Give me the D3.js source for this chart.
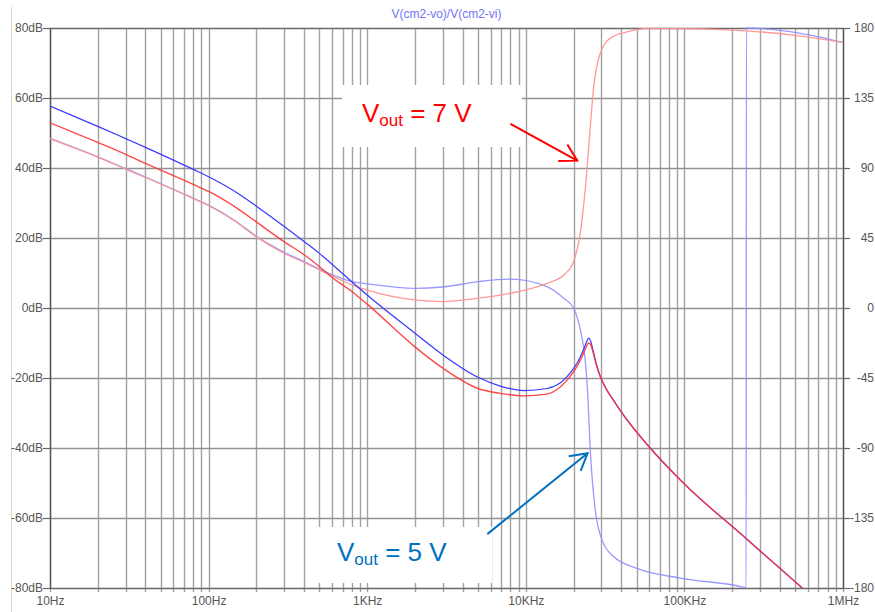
<!DOCTYPE html>
<html>
<head>
<meta charset="utf-8">
<script src="https://cdn.jsdelivr.net/npm/d3@7"></script>
<style>
    body { margin: 0; background: #fff; }
    svg { font-family: "Liberation Sans", Arial, sans-serif; }
</style>
</head>
<body>
<div id="div-grafico"></div>
<script>
// frequencies in Hz, magnitude in dB, phase in degrees
var freqMag5 = [10, 20, 30, 40, 80, 100, 150, 200, 300, 400, 500, 610, 800, 1000, 2000, 3000, 5000, 6900, 9700,
    13600, 18200, 22100, 23390, 24100, 24900, 25710, 26660, 27850, 29500, 32200, 35650, 39470, 45630, 58200,
    99000, 237000, 553000];
var magV5 = [57.7, 51.9, 48.4, 45.9, 39.6, 37.5, 33.0, 29.1, 23.3, 19.0, 15.6, 12.2, 7.5, 3.7, -7.2, -13.4, -19.8, -22.3, -23.6,
    -23.0, -19.6, -13.9, -11.3, -9.8, -8.6, -9.6, -12.5, -16.0, -19.6, -23.2, -26.3, -29.3, -33.2, -39.0,
    -50.1, -65.3, -80.0];

var freqMag7 = [10, 20, 30, 40, 80, 100, 150, 200, 300, 400, 500, 610, 800, 1000, 2000, 3000, 5000, 6900, 9700,
    13600, 18200, 22100, 23390, 24100, 24900, 25710, 26660, 27850, 29500, 32200, 35650, 39470, 45630, 58200,
    99000, 237000, 553000];
var magV7 = [52.9, 47.3, 43.9, 41.3, 35.3, 33.3, 28.6, 24.6, 18.9, 15.2, 11.8, 8.5, 4.7, 1.1, -11.1, -17.2, -23.0, -24.4, -25.1,
    -24.6, -20.6, -14.9, -12.4, -11.0, -10.0, -10.6, -12.9, -16.2, -19.6, -23.2, -26.3, -29.3, -33.2, -39.0,
    -50.1, -65.3, -80.0];

var freqPh5 = [10, 20, 30, 40, 80, 100, 150, 200, 300, 400, 500, 610, 800, 1000, 2000, 3000, 5000, 8000, 13600,
    17300, 20000, 22100, 23700, 24500, 25500, 27400, 30300, 35800, 50300, 94400, 237000, 245000, 246000, 540000, 1000000];
var phaseV5 = [109.1, 97.2, 89.6, 84.2, 70.6, 66.1, 55.5, 46.1, 35.8, 29.9, 25.0, 21.2, 16.9, 15.5, 12.6, 13.5, 16.9, 18.5, 13.7,
    6.3, 0, -14.2, -33.5, -52.7, -91.4, -129.8, -149.2, -159.8, -167.4, -173.7, -179.6, -180, 180, 176.6, 170.8];

var freqPh7 = [10, 20, 30, 40, 80, 100, 150, 200, 300, 400, 500, 610, 800, 1000, 2000, 3000, 5000, 6900, 9700, 13600,
    17300, 19600, 20500, 22100, 22600, 24100, 25500, 26800, 29500, 34100, 43500, 58200, 126000, 245000, 540000, 1000000];
var phaseV7 = [108.7, 97.0, 89.3, 83.9, 70.4, 65.9, 55.1, 45.7, 35.1, 29.3, 24.5, 20.3, 14.9, 11.5, 5.2, 4.1, 6.3, 8.3, 11.3, 15.8,
    21.0, 27.7, 33.0, 48.8, 56.5, 84.4, 116.6, 142.2, 163.8, 173.5, 177.5, 179.8, 179.5, 178.2, 174.8, 170.6];

var dbTicks = [80, 60, 40, 20, 0, -20, -40, -60, -80];
var phaseTicks = [180, 135, 90, 45, 0, -45, -90, -135, -180];
var freqTicks = [10, 100, 1000, 10000, 100000, 1000000];
var freqLabels = ["10Hz", "100Hz", "1KHz", "10KHz", "100KHz", "1MHz"];

// annotations: [freq, dB] tail and tip of the arrows
var arrow7 = [[8000, 52.6], [21100, 42.1]];
var arrow5 = [[5720, -64.6], [24500, -41.5]];

var margin = { top: 28, right: 32, bottom: 24, left: 50 },
    width = 875 - margin.left - margin.right,
    height = 612 - margin.top - margin.bottom;

var x = d3.scaleLog().domain([10, 1000000]).range([0, width]);
var yDb = d3.scaleLinear().domain([-80, 80]).range([height, 0]);
var yPh = d3.scaleLinear().domain([-180, 180]).range([height, 0]);

var root = d3.select("#div-grafico").append("svg")
    .attr("width", 875)
    .attr("height", 612);

// faint edge of the screenshot
root.append("line")
    .attr("x1", 11.5).attr("x2", 11.5).attr("y1", 7).attr("y2", 612)
    .attr("stroke", "#d8d8d8").attr("stroke-width", 1);

root.append("text")
    .attr("x", margin.left + width / 2)
    .attr("y", 18)
    .attr("text-anchor", "middle")
    .attr("font-size", 12)
    .attr("fill", "#7474f4")
    .text("V(cm2-vo)/V(cm2-vi)");

var svg = root.append("g")
    .attr("transform", "translate(" + margin.left + "," + margin.top + ")");

// grid lines: every 1..9 per decade
var minor = [];
freqTicks.forEach(function (d, i) {
    if (i < freqTicks.length - 1) {
        for (var k = 1; k < 10; k++) minor.push(d * k);
    }
});
minor.push(1000000);

svg.append("g").selectAll("line")
    .data(minor)
    .enter().append("line")
    .attr("x1", function (d) { return Math.round(x(d)) + 0.5; })
    .attr("x2", function (d) { return Math.round(x(d)) + 0.5; })
    .attr("y1", 0)
    .attr("y2", height + 4)
    .attr("stroke", "#a2a2a2")
    .attr("stroke-width", 1.4);

svg.append("g").selectAll("line")
    .data(dbTicks)
    .enter().append("line")
    .attr("x1", 0)
    .attr("x2", width)
    .attr("y1", function (d) { return Math.round(yDb(d)) + 0.5; })
    .attr("y2", function (d) { return Math.round(yDb(d)) + 0.5; })
    .attr("stroke", "#939393")
    .attr("stroke-width", 1.4);

// label boxes hide the grid
svg.append("rect")
    .attr("x", 342 - margin.left).attr("y", 85 - margin.top)
    .attr("width", 180).attr("height", 62)
    .attr("fill", "#fff");
svg.append("rect")
    .attr("x", 318 - margin.left).attr("y", 527 - margin.top)
    .attr("width", 174).attr("height", 56)
    .attr("fill", "#fff");

// frame
svg.append("rect")
    .attr("x", 0.5).attr("y", 0.5)
    .attr("width", width).attr("height", height)
    .attr("fill", "none")
    .attr("stroke", "#6a6a6a")
    .attr("stroke-width", 1.2);

// axes
var axL = svg.append("g")
    .call(d3.axisLeft(yDb).tickValues(dbTicks).tickSize(7).tickPadding(0)
        .tickFormat(function (d) { return d + "dB"; }));
var axR = svg.append("g")
    .attr("transform", "translate(" + width + ",0)")
    .call(d3.axisRight(yPh).tickValues(phaseTicks).tickSize(7).tickFormat(function (d) { return String(d); }));
var axB = svg.append("g")
    .attr("transform", "translate(0," + height + ")")
    .call(d3.axisBottom(x).tickValues(freqTicks).tickSize(0).tickPadding(8)
        .tickFormat(function (d, i) { return freqLabels[i]; }));

[axL, axR, axB].forEach(function (ax) {
    ax.select(".domain").attr("stroke", "#555").attr("stroke-width", 1.2);
    ax.selectAll(".tick line").attr("stroke", "#666").attr("stroke-width", 1.2);
    ax.selectAll("text").attr("font-size", 12).attr("fill", "#555")
        .attr("font-family", "'Liberation Sans', Arial, sans-serif");
});
axB.select(".domain").remove();
axR.selectAll("text").attr("text-anchor", "end").attr("x", 874 - margin.left - width);

// curves
svg.append("clipPath").attr("id", "clip")
    .append("rect").attr("x", 0).attr("y", -1).attr("width", width).attr("height", height + 1);

function drawCurve(freqs, vals, yScale, color, w, op) {
    var pts = freqs.map(function (f, i) { return [f, vals[i]]; });
    var line = d3.line()
        .x(function (d) { return x(d[0]); })
        .y(function (d) { return yScale(d[1]); })
        .curve(d3.curveMonotoneX);
    svg.append("path")
        .datum(pts)
        .attr("clip-path", "url(#clip)")
        .attr("fill", "none")
        .attr("stroke", color)
        .attr("stroke-width", w)
        .attr("stroke-opacity", op)
        .attr("d", line);
}

drawCurve(freqPh5, phaseV5, yPh, "#8e8eff", 1.3, 0.9);
drawCurve(freqPh7, phaseV7, yPh, "#ff9494", 1.3, 0.95);
drawCurve(freqMag5, magV5, yDb, "#3838ff", 1.2, 1);
drawCurve(freqMag7, magV7, yDb, "#ff3434", 1.4, 0.9);

// annotations
function label(xp, yp, color, rest) {
    var t = svg.append("text")
        .attr("x", xp - margin.left)
        .attr("y", yp - margin.top)
        .attr("fill", color)
        .attr("font-size", 26);
    t.append("tspan").text("V");
    t.append("tspan").attr("font-size", 17).attr("dy", 4).text("out");
    t.append("tspan").attr("dy", -4).text(rest);
}
label(362, 122, "#ff0000", " = 7 V");
label(337, 561, "#0070c0", " = 5 V");

function arrow(pair, color) {
    var x0 = x(pair[0][0]), y0 = yDb(pair[0][1]);
    var x1 = x(pair[1][0]), y1 = yDb(pair[1][1]);
    var ang = Math.atan2(y0 - y1, x0 - x1);
    var len = 19, spread = 30 * Math.PI / 180;
    var g = svg.append("g").attr("stroke", color).attr("stroke-width", 2).attr("fill", "none");
    g.append("line").attr("x1", x0).attr("y1", y0).attr("x2", x1).attr("y2", y1);
    g.append("path").attr("d",
        "M" + (x1 + len * Math.cos(ang - spread)) + "," + (y1 + len * Math.sin(ang - spread)) +
        "L" + x1 + "," + y1 +
        "L" + (x1 + len * Math.cos(ang + spread)) + "," + (y1 + len * Math.sin(ang + spread)));
}
arrow(arrow7, "#ff0000");
arrow(arrow5, "#0070c0");
</script>
</body>
</html>
